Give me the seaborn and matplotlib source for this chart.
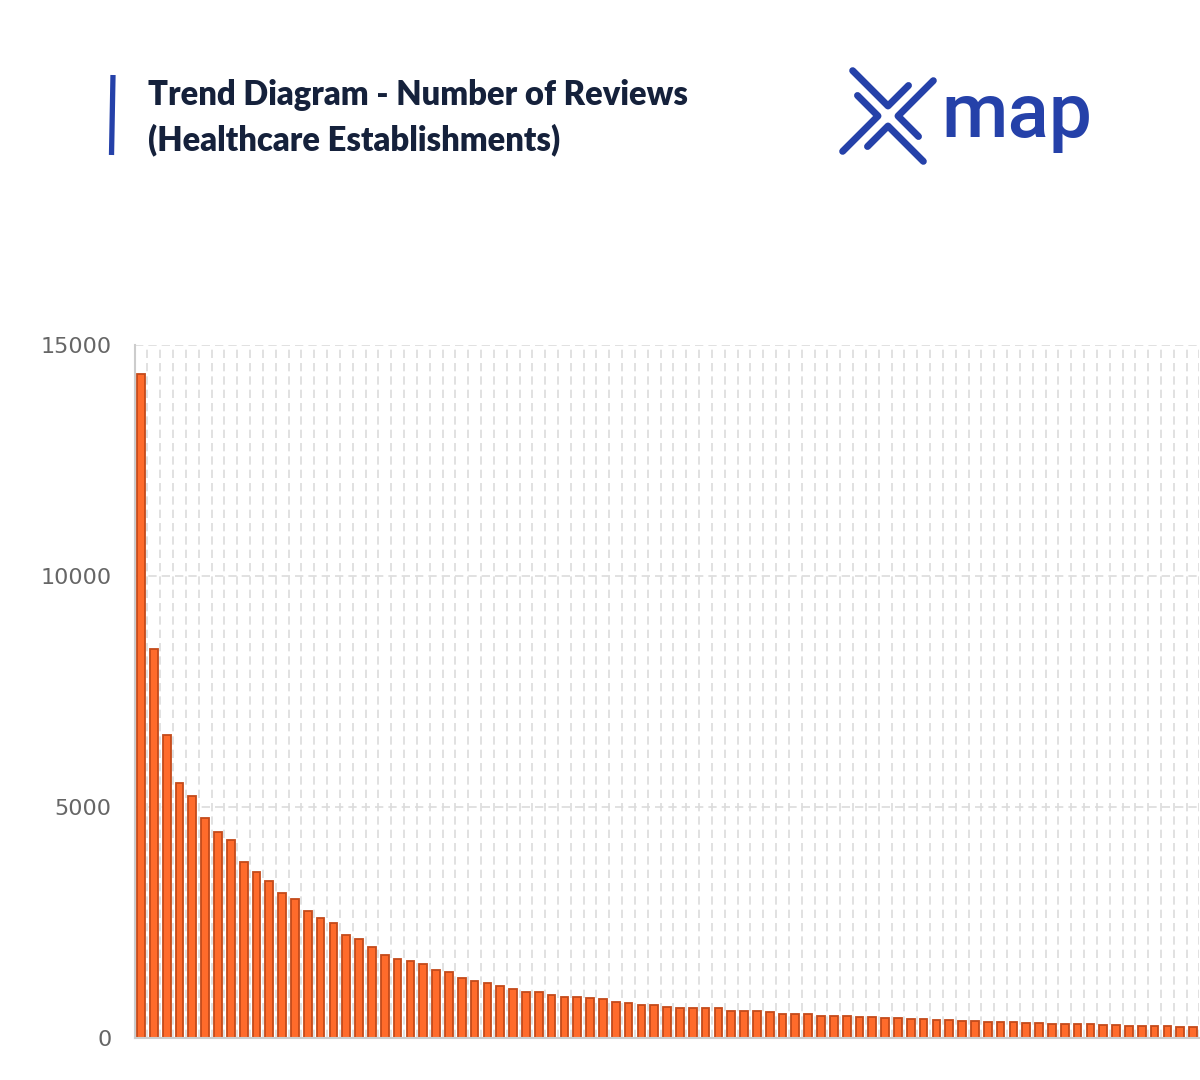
import numpy as np
import pandas as pd
import matplotlib
matplotlib.use("Agg")
import matplotlib.pyplot as plt
import seaborn as sns

# ----------------------- data ------------------------------------------------

reviews = [
    14380, 8410, 6560, 5520, 5240, 4760, 4450, 4280, 3800, 3600,
    3400, 3130, 3000, 2740, 2600, 2500, 2220, 2140, 1960, 1790,
    1710, 1660, 1600, 1470, 1430, 1300, 1230, 1190, 1130, 1060,
    1000, 1000, 935, 890, 890, 870, 850, 770, 750, 720,
    720, 680, 660, 660, 640, 640, 575, 575, 575, 555,
    510, 510, 510, 485, 482, 480, 460, 445, 425, 425,
    405, 405, 400, 380, 360, 360, 340, 340, 338, 316,
    316, 295, 295, 295, 295, 273, 273, 252, 252, 250,
    250, 230, 230,
]
ranks = list(range(1, len(reviews) + 1))
y_ticks = [0, 5000, 10000, 15000]

title_lines = ["Trend Diagram - Number of Reviews", "(Healthcare Establishments)"]
logo_text = "map"

BAR_COLOR = "#ff6b2b"
BAR_EDGE = "#c44a1a"
GRID_COLOR = "#dcdcdc"
AXIS_COLOR = "#cccccc"
BRAND_BLUE = "#2541a9"
TITLE_COLOR = "#15213b"

df = pd.DataFrame({"rank": ranks, "reviews": reviews})

# ----------------------- figure ----------------------------------------------

sns.set_style("white")
plt.rcParams["font.family"] = ["DejaVu Sans"]

W, H = 1200, 1080
fig = plt.figure(figsize=(W / 100, H / 100), dpi=100)

n = len(reviews)
px_per_cat = 12.83
ax = fig.add_axes([134.6 / W, 42 / H, n * px_per_cat / W, 693 / H])

sns.barplot(data=df, x="rank", y="reviews", color=BAR_COLOR, saturation=1,
            edgecolor=BAR_EDGE, linewidth=1.3, width=0.6, ax=ax)

ax.set_xlim(-0.5, n - 0.5)
ax.set_ylim(0, 15000)
ax.set_yticks(y_ticks)
ax.set_yticklabels([str(v) for v in y_ticks], fontsize=16, color="#666666")
ax.set_xticks([])
ax.set_xticks(np.arange(n) + 0.5, minor=True)
ax.tick_params(axis="x", which="both", length=0)
ax.tick_params(axis="y", length=9.5, width=1.2, color=AXIS_COLOR, pad=7)
ax.set_xlabel("")
ax.set_ylabel("")

ax.yaxis.grid(True, linestyle=(0, (5, 3)), color=GRID_COLOR, linewidth=1.2)
ax.xaxis.grid(True, which="minor", linestyle=(0, (5, 3)), color=GRID_COLOR, linewidth=1.2)
ax.set_axisbelow(True)

for side in ["top", "right"]:
    ax.spines[side].set_visible(False)
for side in ["left", "bottom"]:
    ax.spines[side].set_color(AXIS_COLOR)
    ax.spines[side].set_linewidth(1.5)

# ----------------------- header (pixel coords overlay) -----------------------

ov = fig.add_axes([0, 0, 1, 1], facecolor="none")
ov.set_xlim(0, W)
ov.set_ylim(H, 0)
ov.axis("off")

# accent bar left of the title
ov.plot([113, 111.5], [75, 155], color=BRAND_BLUE, linewidth=3.8, solid_capstyle="butt")

for text, base in zip(title_lines, [105, 150]):
    ov.text(148, base, text, fontsize=23.6, fontweight="heavy", family=["Lato", "DejaVu Sans"],
            color=TITLE_COLOR, va="baseline", ha="left")

# logo: four chevrons arranged as a pinwheel "X"
cx, cy = 888, 116
long_arm, short_arm = 50, 29
vertex = np.array([0.0, -10.0])
d_long = np.array([-1.0, -1.0]) / np.sqrt(2)
d_short = np.array([1.0, -1.0]) / np.sqrt(2)


def rot(v):
    return np.array([-v[1], v[0]])


for _ in range(4):
    p0 = vertex + d_long * long_arm
    p2 = vertex + d_short * short_arm
    pts = np.array([p0, vertex, p2]) + np.array([cx, cy])
    ov.plot(pts[:, 0], pts[:, 1], color=BRAND_BLUE, linewidth=5,
            solid_capstyle="round", solid_joinstyle="round")
    vertex, d_long, d_short = rot(vertex), rot(d_long), rot(d_short)

ov.text(941, 137, logo_text, fontsize=55, fontweight="medium", family=["Roboto", "DejaVu Sans"],
        color=BRAND_BLUE, va="baseline", ha="left")

fig.savefig("out.png", dpi=100)
